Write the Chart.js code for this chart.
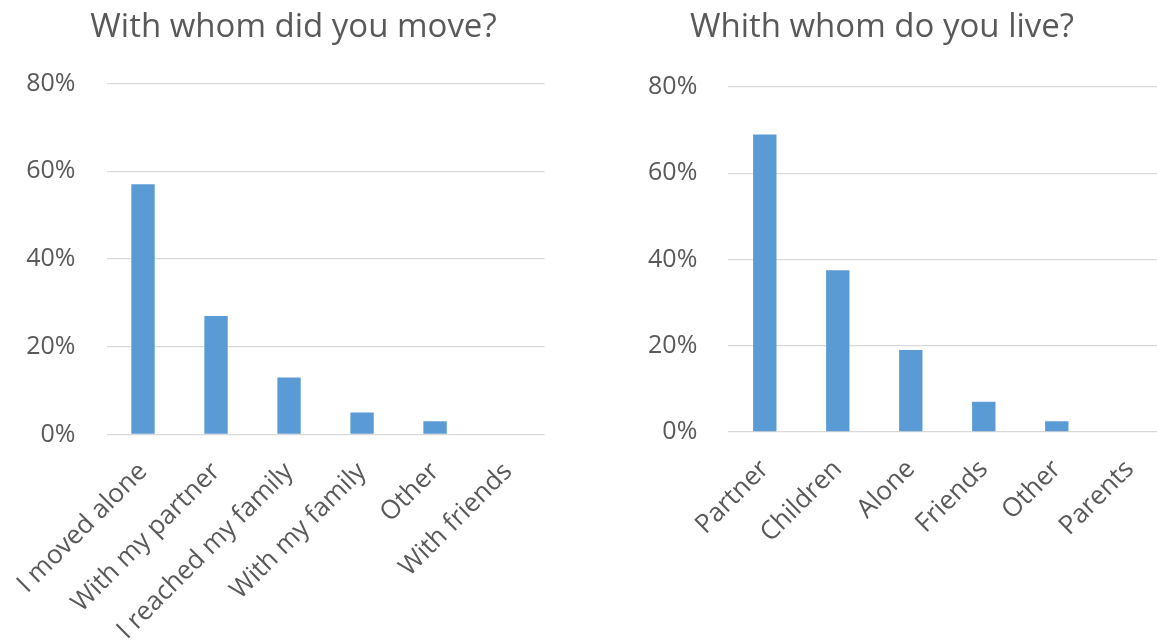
<!DOCTYPE html>
<html>
<head>
<meta charset="utf-8">
<script src="https://cdn.jsdelivr.net/npm/chart.js@4.4.1/dist/chart.umd.min.js"></script>
<style>
  html, body { margin: 0; padding: 0; background: #ffffff; overflow: hidden; width: 1157px; height: 642px; }
  #moveChart { position: absolute; left: 0; top: 0; }
  #liveChart { position: absolute; left: 580px; top: 0; }
</style>
</head>
<body>
<canvas id="moveChart" width="587" height="642"></canvas>
<canvas id="liveChart" width="604" height="642"></canvas>
<script>
// Survey answers, shares in percent
const moveTitle = 'With whom did you move?';
const moveCategories = ['I moved alone', 'With my partner', 'I reached my family', 'With my family', 'Other', 'With friends'];
const moveShares = [57, 27, 13, 5, 3, 0];

const liveTitle = 'Whith whom do you live?';
const liveCategories = ['Partner', 'Children', 'Alone', 'Friends', 'Other', 'Parents'];
const liveShares = [69, 37.5, 19, 7, 2.5, 0];

const shareTicks = [0, 20, 40, 60, 80];

const TEXT = '#595959';
const GRID = '#D9D9D9';
const BAR = '#5B9BD5';
const FONT = "'Open Sans', sans-serif";

function buildChart(canvasId, title, categories, values, frame) {
  return new Chart(document.getElementById(canvasId), {
    type: 'bar',
    data: {
      labels: categories,
      datasets: [{
        data: values,
        backgroundColor: BAR,
        borderWidth: 0,
        barPercentage: 0.32,
        categoryPercentage: 1
      }]
    },
    options: {
      responsive: false,
      animation: false,
      events: [],
      layout: { padding: 0 },
      plugins: {
        legend: { display: false },
        tooltip: { enabled: false },
        title: {
          display: true,
          text: title,
          color: TEXT,
          font: { family: FONT, size: 33, weight: 'normal', lineHeight: 1.2 },
          padding: { top: frame.titleTop, bottom: frame.titleBottom }
        }
      },
      scales: {
        x: {
          grid: { display: false, drawTicks: false },
          border: { display: false },
          ticks: {
            color: TEXT,
            font: { family: FONT, size: 26 },
            minRotation: 45,
            maxRotation: 45,
            autoSkip: false,
            padding: frame.labelPad
          },
          afterFit(scale) {
            scale.height = frame.axisHeight;
            scale.paddingLeft = 0;
            scale.paddingRight = 0;
          }
        },
        y: {
          min: 0,
          max: 80,
          grid: { color: GRID, lineWidth: 1.3, drawTicks: false },
          border: { display: false },
          ticks: {
            color: TEXT,
            font: { family: FONT, size: 25 },
            padding: frame.tickPad,
            callback: v => v + '%'
          },
          afterBuildTicks(scale) {
            scale.ticks = shareTicks.map(v => ({ value: v }));
          },
          afterFit(scale) {
            scale.width = frame.axisWidth;
            scale.paddingTop = 0;
            scale.paddingBottom = 0;
          }
        },
        // empty strip on the right so the title stays centred on the whole panel
        gap: {
          type: 'linear',
          position: 'right',
          grid: { display: false, drawTicks: false },
          border: { display: false },
          ticks: { display: false },
          afterFit(scale) {
            scale.width = frame.rightGap;
            scale.paddingTop = 0;
            scale.paddingBottom = 0;
          }
        }
      }
    }
  });
}

buildChart('moveChart', moveTitle, moveCategories, moveShares,
  { axisWidth: 106.5, axisHeight: 207.5, rightGap: 42.4, titleTop: 8, titleBottom: 35.8, tickPad: 31, labelPad: 22 });
buildChart('liveChart', liveTitle, liveCategories, liveShares,
  { axisWidth: 148.3, axisHeight: 210, rightGap: 17.7, titleTop: 8, titleBottom: 39.4, tickPad: 31, labelPad: 22 });
</script>
</body>
</html>
